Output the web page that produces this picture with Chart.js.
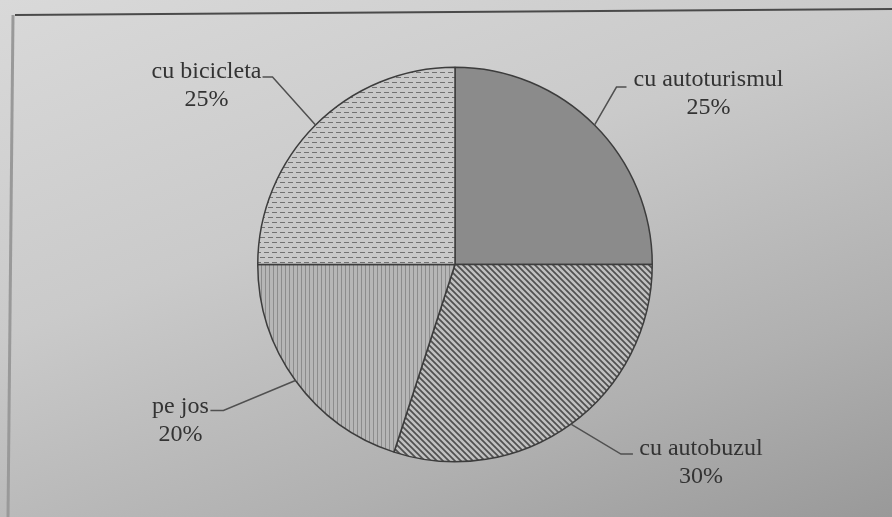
<!DOCTYPE html>
<html>
<head>
<meta charset="utf-8">
<script src="https://cdn.jsdelivr.net/npm/chart.js@4.4.1/dist/chart.umd.min.js"></script>
<style>
html, body { margin: 0; padding: 0; width: 892px; height: 517px; overflow: hidden; }
body { background: linear-gradient(160deg, #d9d9d9 0%, #cacaca 40%, #b0b0b0 75%, #999999 100%); }
#pie { position: absolute; left: 0; top: 0; }
</style>
</head>
<body>
<canvas id="pie" width="892" height="517"></canvas>
<script>
// slices go clockwise from 12 o'clock
var categories = ['cu autoturismul', 'cu autobuzul', 'pe jos', 'cu bicicleta'];
var percentages = [25, 30, 20, 25];
var percentLabels = ['25%', '30%', '20%', '25%'];

// leader line elbow / text offsets, relative to the point on the arc
var leaders = [
	{ ex: 22, ey: -38, run: 10, tx: 82, ty: -7 },
	{ ex: 50, ey: 30, run: 12, tx: 68, ty: -5 },
	{ ex: -72, ey: 30, run: -13, tx: -30, ty: -4 },
	{ ex: -43, ey: -48, run: -10, tx: -56, ty: -5 }
];

var makePattern = function(w, h, bg, draw) {
	var c = document.createElement('canvas');
	c.width = w;
	c.height = h;
	var g = c.getContext('2d');
	g.fillStyle = bg;
	g.fillRect(0, 0, w, h);
	draw(g);
	return g.createPattern(c, 'repeat');
};

var diagonal = makePattern(6, 6, '#c0c0c0', function(g) {
	g.strokeStyle = '#505050';
	g.lineWidth = 1.7;
	g.beginPath();
	g.moveTo(-1, -1); g.lineTo(7, 7);
	g.moveTo(-4, 2); g.lineTo(2, 8);
	g.moveTo(4, -2); g.lineTo(10, 4);
	g.stroke();
});

var vertical = makePattern(4, 4, '#b6b6b6', function(g) {
	g.fillStyle = '#8c8c8c';
	g.fillRect(1, 0, 1, 4);
});

var dashes = makePattern(8, 10, '#c9c9c9', function(g) {
	g.fillStyle = '#727272';
	g.fillRect(0, 2, 5, 1);
	g.fillRect(4, 7, 4, 1);
	g.fillRect(0, 7, 1, 1);
});

var colours = ['#8b8b8b', diagonal, vertical, dashes];

var framePlugin = {
	id: 'frame',
	beforeDraw: function(chart) {
		var ctx = chart.ctx;
		ctx.save();
		ctx.strokeStyle = '#4a4a4a';
		ctx.lineWidth = 2;
		ctx.beginPath();
		ctx.moveTo(15, 15);
		ctx.lineTo(892, 9);
		ctx.stroke();
		ctx.strokeStyle = '#999999';
		ctx.lineWidth = 3;
		ctx.beginPath();
		ctx.moveTo(13, 15);
		ctx.lineTo(8, 517);
		ctx.stroke();
		ctx.restore();
	}
};

var leaderPlugin = {
	id: 'leaders',
	afterDatasetsDraw: function(chart) {
		var ctx = chart.ctx;
		var arcs = chart.getDatasetMeta(0).data;
		ctx.save();
		arcs.forEach(function(arc, i) {
			var p = arc.getProps(['x', 'y', 'startAngle', 'endAngle', 'outerRadius'], true);
			var mid = (p.startAngle + p.endAngle) / 2;
			var sx = p.x + Math.cos(mid) * p.outerRadius;
			var sy = p.y + Math.sin(mid) * p.outerRadius;
			var l = leaders[i];
			var elx = sx + l.ex, ely = sy + l.ey;
			ctx.strokeStyle = '#505050';
			ctx.lineWidth = 1.5;
			ctx.beginPath();
			ctx.moveTo(sx, sy);
			ctx.lineTo(elx, ely);
			ctx.lineTo(elx + l.run, ely);
			ctx.stroke();

			var cx = elx + l.run + l.tx;
			var cy = ely + l.ty;
			ctx.fillStyle = '#333333';
			ctx.font = '24px "Liberation Serif", "DejaVu Serif", serif';
			ctx.textAlign = 'center';
			ctx.textBaseline = 'middle';
			ctx.filter = 'blur(0.5px)';
			ctx.fillText(categories[i], cx, cy);
			ctx.fillText(percentLabels[i], cx, cy + 28);
			ctx.filter = 'none';
		});
		ctx.restore();
	}
};

var config = {
	type: 'pie',
	data: {
		labels: categories,
		datasets: [{
			data: percentages,
			backgroundColor: colours,
			borderColor: '#3c3c3c',
			borderWidth: 1.5
		}]
	},
	options: {
		responsive: false,
		animation: false,
		layout: {
			padding: { left: 257, right: 239, top: 66, bottom: 54 }
		},
		plugins: {
			legend: { display: false },
			tooltip: { enabled: false }
		}
	},
	plugins: [framePlugin, leaderPlugin]
};

var ctx = document.getElementById('pie').getContext('2d');
window.myPie = new Chart(ctx, config);
</script>
</body>
</html>
